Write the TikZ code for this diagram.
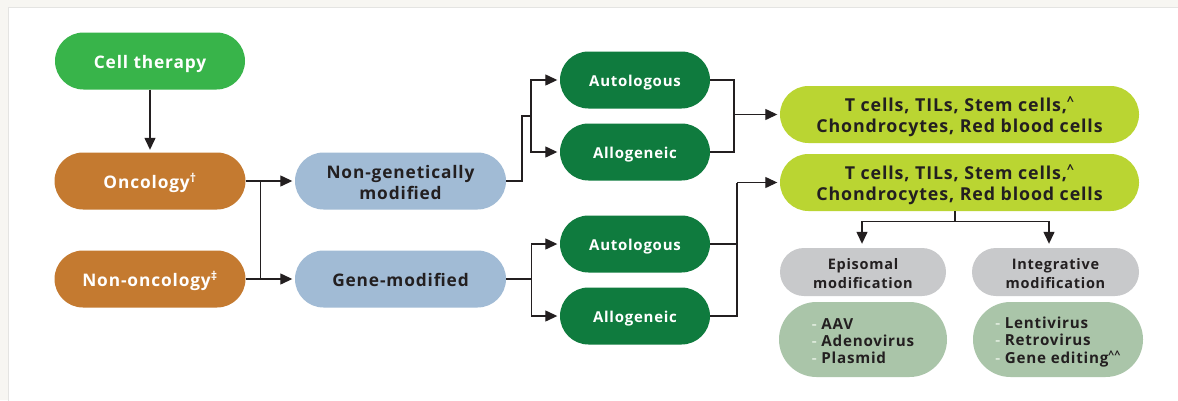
\documentclass[tikz,border=0pt]{standalone}
\usepackage{fontspec}
\setmainfont{Open Sans}[LetterSpace=5]
\usetikzlibrary{arrows.meta,calc}
\definecolor{bgout}{HTML}{F7F6F2}
\definecolor{panelline}{HTML}{E4E4E2}
\definecolor{ctgreen}{HTML}{38B44A}
\definecolor{oncorange}{HTML}{C47A30}
\definecolor{modblue}{HTML}{A1BBD5}
\definecolor{darkgreen}{HTML}{0F7B3E}
\definecolor{lime}{HTML}{BAD532}
\definecolor{greybox}{HTML}{C8C9CB}
\definecolor{sage}{HTML}{AAC5A9}
\definecolor{ink}{HTML}{231F20}
\definecolor{dashcol}{HTML}{DCE9DA}
\newcommand{\dd}{{\color{dashcol}-}\ }
\newcommand{\tl}[2][c]{\raisebox{-3.3pt}[\height][\depth]{\begin{tabular}{@{}#1@{}}#2\end{tabular}}}
\begin{document}
\begin{tikzpicture}[x=1pt,y=-1pt,
  pill/.style={rectangle, inner sep=0pt, align=center},
  mainf/.style={font=\bfseries\fontsize{17.3}{21}\selectfont},
  ctbox/.style={pill, mainf, fill=ctgreen, text=white, minimum width=190pt, minimum height=57pt, rounded corners=28.5pt},
  oncbox/.style={pill, mainf, fill=oncorange, text=white, minimum width=191pt, minimum height=57pt, rounded corners=28.5pt},
  modbox/.style={pill, mainf, fill=modblue, text=ink, minimum width=211pt, minimum height=57pt, rounded corners=28.5pt},
  dgbox/.style={pill, font=\bfseries\fontsize{15}{18}\selectfont, fill=darkgreen, text=white, minimum width=150pt, minimum height=57pt, rounded corners=28.5pt},
  limebox/.style={pill, font=\bfseries\fontsize{17.8}{21}\selectfont, fill=lime, text=ink, minimum width=359pt, minimum height=57pt, rounded corners=28.5pt},
  greyb/.style={pill, font=\bfseries\fontsize{14.5}{18.4}\selectfont, fill=greybox, text=ink, minimum width=166pt, minimum height=48pt, rounded corners=24pt},
  sageb/.style={pill, font=\bfseries\fontsize{15.2}{17}\selectfont, fill=sage, text=ink, minimum width=168pt, minimum height=75pt, rounded corners=37.5pt},
  conn/.style={draw=ink, line width=1.3pt},
  arr/.style={conn, -{Triangle[length=12pt,width=11pt]}, shorten >=2.5pt}
]
\useasboundingbox (0,0) rectangle (1178,400);
\fill[bgout] (0,0) rectangle (1178,400);
\filldraw[fill=white, draw=panelline, line width=1pt] (8,7) rectangle (1180,402);

\node[ctbox] (cell) at (150,61) {\tl{Cell therapy}};
\node[oncbox] (onc) at (150,181) {\tl{Oncology\textsuperscript{\textdagger}}};
\node[oncbox] (nonc) at (150,279) {\tl{Non-oncology\textsuperscript{\textdaggerdbl}}};
\node[modbox] (ngm) at (400.5,181) {\tl{Non-genetically\\modified}};
\node[modbox] (gm) at (400.5,279) {\tl{Gene-modified}};
\node[dgbox] (aut1) at (635,80) {\tl{Autologous}};
\node[dgbox] (all1) at (635,152) {\tl{Allogeneic}};
\node[dgbox] (aut2) at (635,244) {\tl{Autologous}};
\node[dgbox] (all2) at (635,316) {\tl{Allogeneic}};
\node[limebox] (lime1) at (959.5,114.5) {\tl{T cells, TILs, Stem cells,\textsuperscript{\textasciicircum}\\Chondrocytes, Red blood cells}};
\node[limebox] (lime2) at (959.5,182.5) {\tl{T cells, TILs, Stem cells,\textsuperscript{\textasciicircum}\\Chondrocytes, Red blood cells}};
\node[greyb] (epi) at (863,272) {\tl{Episomal\\modification}};
\node[greyb, minimum width=167pt] (integ) at (1055.5,272) {\tl{Integrative\\modification}};
\node[sageb] (sage1) at (863,339.5) {\tl[l]{\dd AAV\\\dd Adenovirus\\\dd Plasmid}};
\node[sageb, minimum width=170pt] (sage2) at (1058,339.5) {\tl[l]{\dd Lentivirus\\\dd Retrovirus\\\dd Gene editing\textsuperscript{\textasciicircum\textasciicircum}}};

% left connectors
\draw[arr] (cell.south) -- (onc.north);
\draw[arr] (onc.east) -- (ngm.west);
\draw[arr] (nonc.east) -- (gm.west);
\coordinate (j1) at ([xshift=15pt]onc.east);
\coordinate (j2) at ([xshift=15pt]nonc.east);
\draw[conn] (j1) -- (j2);

% middle connectors
\coordinate (b1) at (531,116);
\coordinate (b1a) at (522,116);
\draw[conn] (ngm.east) -| (b1a) -- (b1);
\draw[arr] (b1) |- (aut1.west);
\draw[arr] (b1) |- (all1.west);
\coordinate (b2) at ([xshift=25pt]gm.east);
\draw[conn] (gm.east) -- (b2);
\draw[arr] (b2) |- (aut2.west);
\draw[arr] (b2) |- (all2.west);

% right connectors
\coordinate (c1) at (lime1.west -| 734,0);
\draw[conn] (aut1.east) -| (c1);
\draw[conn] (all1.east) -| (c1);
\draw[arr] (c1) -- (lime1.west);
\coordinate (c2) at (lime2.west -| 737,0);
\draw[conn] (aut2.east) -| (c2);
\draw[conn] (all2.east) -| (c2);
\draw[arr] (c2) -- (lime2.west);

% bottom split
\coordinate (s0) at ([xshift=-4.5pt]lime2.south);
\coordinate (s1) at ([yshift=-10pt]s0);
\coordinate (e1) at ([xshift=-1pt]epi.north);
\coordinate (e2) at ([xshift=-6.5pt]integ.north);
\draw[conn] (s0) -- (s1);
\draw[arr, shorten >=4pt] (s1) -| (e1);
\draw[arr, shorten >=4pt] (s1) -| (e2);
\end{tikzpicture}
\end{document}
